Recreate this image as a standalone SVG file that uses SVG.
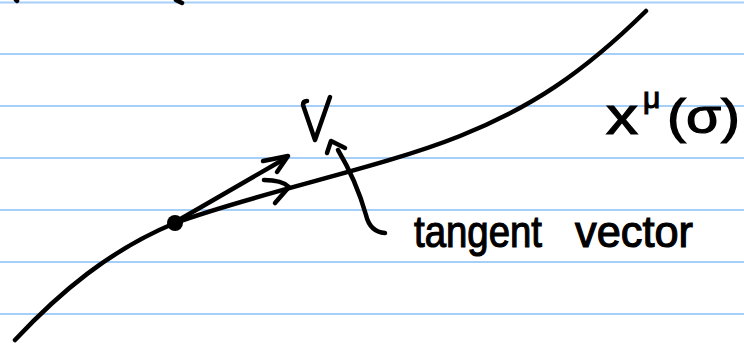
<svg xmlns="http://www.w3.org/2000/svg" width="744" height="343" viewBox="0 0 744 343">
<style>
.rule{stroke:#a6cff7;stroke-width:2;fill:none}
.ink{stroke:#000;stroke-width:4.5;fill:none;stroke-linecap:round;stroke-linejoin:round}
.lbl{font-family:"Liberation Sans",Arial,sans-serif;fill:#000;stroke:#000;stroke-width:1.2}
</style>
<rect width="744" height="343" fill="#fff"/>
<g id="rules">
<line class="rule" x1="0" y1="2.5" x2="744" y2="2.5"/>
<line class="rule" x1="0" y1="54" x2="744" y2="54"/>
<line class="rule" x1="0" y1="106" x2="744" y2="106"/>
<line class="rule" x1="0" y1="158" x2="744" y2="158"/>
<line class="rule" x1="0" y1="210" x2="744" y2="210"/>
<line class="rule" x1="0" y1="262" x2="744" y2="262"/>
<line class="rule" x1="0" y1="314" x2="744" y2="314"/>
</g>
<g id="top-marks">
<path class="ink" d="M176 0 L182 3" stroke-width="4"/>
<path class="ink" d="M16 0 L17 1" stroke-width="2"/>
</g>
<g id="curve">
<path class="ink" d="M15 340 C60 292 110 250 175 223 C260 192 380 168 460 136 C530 108 582 74 646 11"/>
</g>
<g id="point">
<circle cx="175" cy="223" r="8" fill="#000"/>
</g>
<g id="connectors">
<path class="ink" d="M177 221 L286 158"/>
<path class="ink" d="M263 161 L288 156 L277 172"/>
<path class="ink" d="M264 180 Q282 180 289 187 L275 203"/>
<path class="ink" d="M385 233 Q370 232 366 215 Q356 180 338 150"/>
<path class="ink" d="M327 153 L331 141 L345 148"/>
</g>
<g id="label-V">
<path class="ink" d="M307 101 Q303 101 303 105 L315 140 L330 97"/>
</g>
<g id="label-x">
<text class="lbl" x="606" y="134" font-size="54" textLength="32" lengthAdjust="spacingAndGlyphs">x</text>
<text class="lbl" x="643" y="108" font-size="30">μ</text>
<text class="lbl" x="667" y="133" font-size="48" textLength="73" lengthAdjust="spacingAndGlyphs">(σ)</text>
</g>
<g id="label-tangent">
<text class="lbl" x="414" y="247" font-size="44" textLength="128" lengthAdjust="spacingAndGlyphs">tangent</text>
<text class="lbl" x="575" y="247" font-size="44" textLength="118" lengthAdjust="spacingAndGlyphs">vector</text>
</g>
</svg>
